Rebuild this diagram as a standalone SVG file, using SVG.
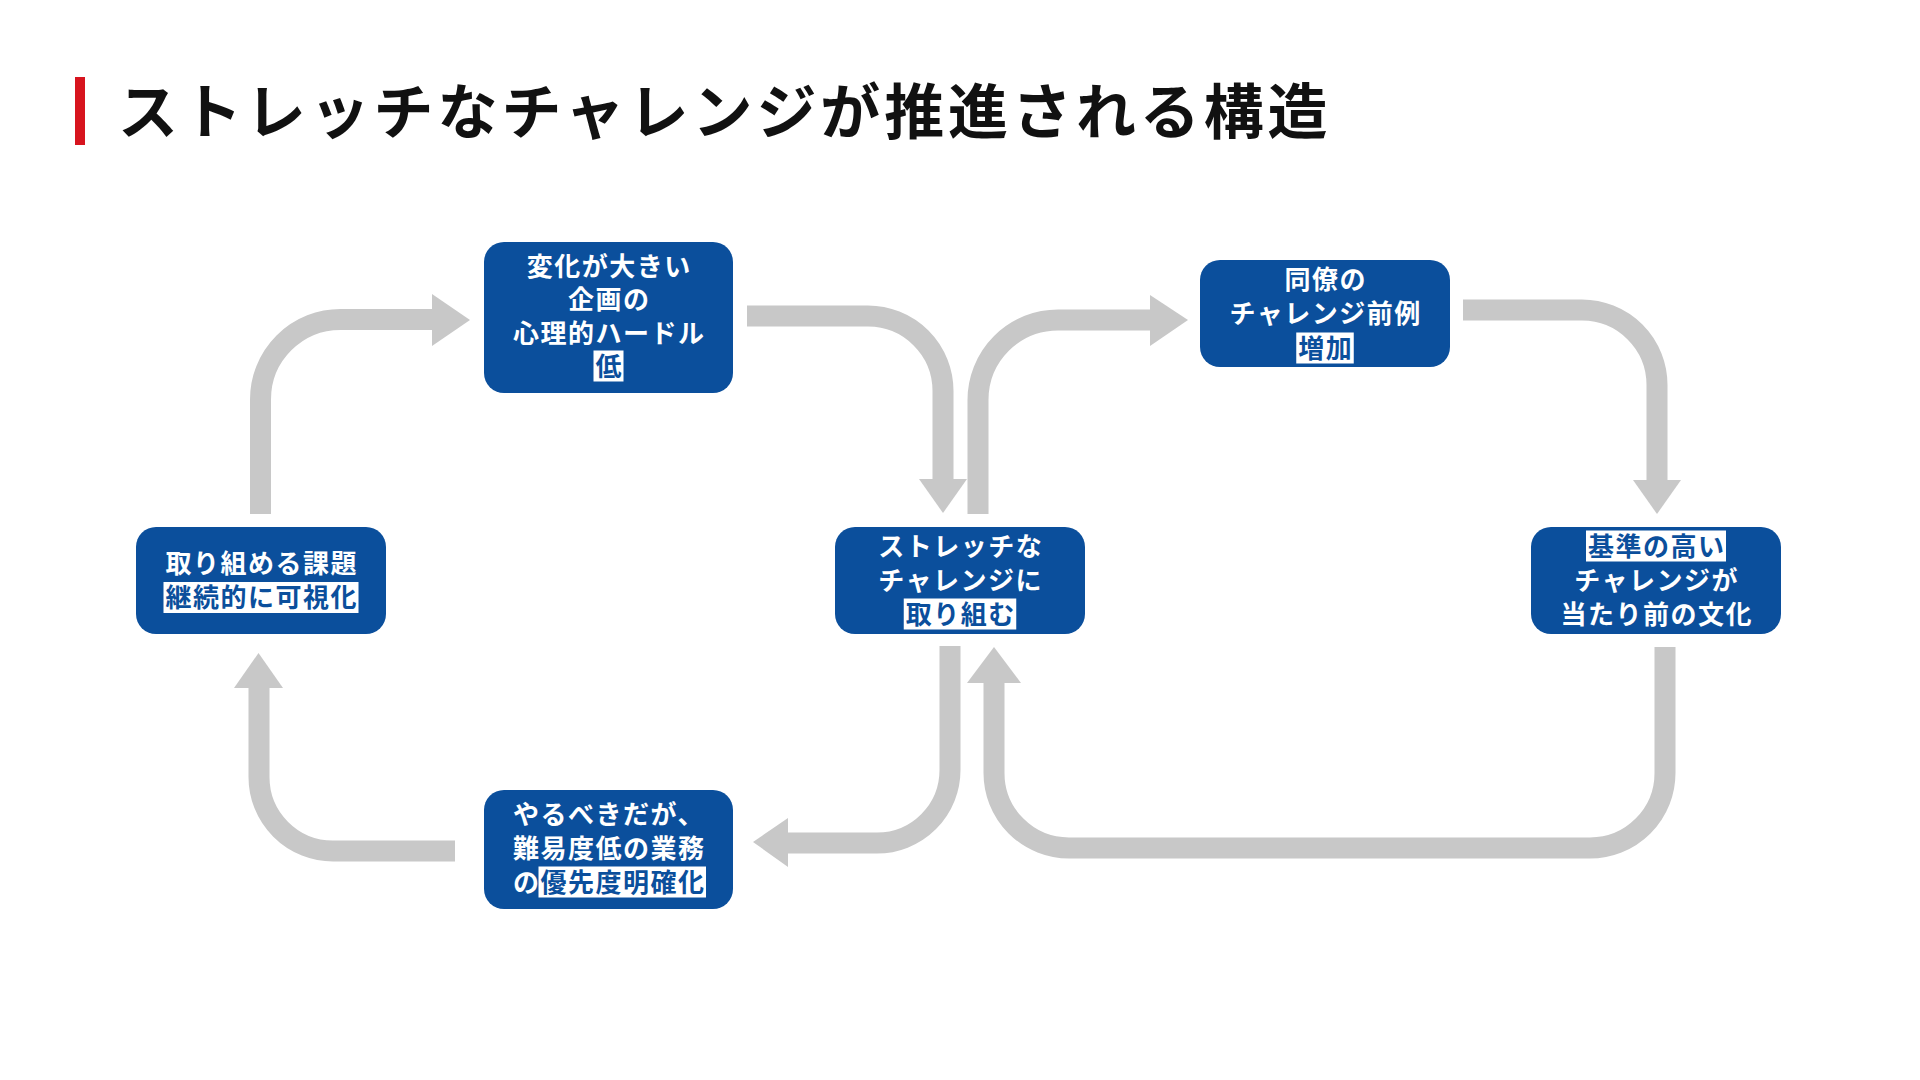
<svg xmlns="http://www.w3.org/2000/svg" width="1920" height="1080" viewBox="0 0 1920 1080">
<style>
.title{font-family:"Noto Sans CJK JP","Noto Sans",sans-serif;font-weight:700;font-size:60px;letter-spacing:3.9px;fill:#111111}
.box{fill:#0b4f9c}
.t{font-family:"Noto Sans CJK JP","Noto Sans",sans-serif;font-weight:700;font-size:26px;letter-spacing:1.5px;fill:#ffffff}
.hl{fill:#ffffff}
.ht{fill:#0b4f9c}
.conn path{fill:none;stroke:#c8c8c8;stroke-width:21}
.conn polygon{fill:#c8c8c8}
</style>
<rect width="1920" height="1080" fill="#ffffff"/>
<g id="title">
<rect x="75" y="77" width="10" height="68" fill="#d7141e"/>
<text class="title" x="118" y="134">ストレッチなチャレンジが推進される構造</text>
</g>
<g id="connectors" class="conn">
<path d="M260.5,514 V399.5 A80,80 0 0 1 340.5,319.5 H433"/>
<polygon points="432,294 470,320 432,346"/>
<path d="M747,316 H868 A75,75 0 0 1 943,391 V480"/>
<polygon points="919,479 967,479 943,513"/>
<path d="M978,514 V400 A80,80 0 0 1 1058,320 H1151"/>
<polygon points="1150,295 1188,320 1150,346"/>
<path d="M1463,310 H1582 A75,75 0 0 1 1657,385 V481"/>
<polygon points="1633,480 1681,480 1657,514"/>
<path d="M1665,647 V773 A75,75 0 0 1 1590,848 H1069 A75,75 0 0 1 994,773 V682"/>
<polygon points="967,683 1021,683 994,647"/>
<path d="M950,646 V770 A73,73 0 0 1 877,843 H787"/>
<polygon points="788,818 788,867 753,842"/>
<path d="M455,851 H333 A74,74 0 0 1 259,777 V687"/>
<polygon points="234,688 283,688 258.5,653"/>
</g>
<g id="node-hurdle">
<rect class="box" x="484" y="242" width="249" height="151" rx="20"/>
<text class="t" x="526.75" y="275.75">変化が大きい</text>
<text class="t" x="568" y="308.75">企画の</text>
<text class="t" x="513" y="342.75">心理的ハードル</text>
<rect class="hl" x="593.5" y="350.5" width="30" height="31"/>
<text class="t ht" x="595.5" y="375.75">低</text>
</g>
<g id="node-visualize">
<rect class="box" x="136" y="527" width="250" height="107" rx="20"/>
<text class="t" x="165.5" y="572.75">取り組める課題</text>
<rect class="hl" x="163.5" y="582" width="195" height="31"/>
<text class="t ht" x="165.5" y="607.25">継続的に可視化</text>
</g>
<g id="node-stretch">
<rect class="box" x="835" y="527" width="250" height="107" rx="20"/>
<text class="t" x="878.25" y="555.75">ストレッチな</text>
<text class="t" x="878.25" y="589.75">チャレンジに</text>
<rect class="hl" x="903.75" y="598.5" width="112.5" height="31"/>
<text class="t ht" x="905.75" y="623.75">取り組む</text>
</g>
<g id="node-precedent">
<rect class="box" x="1200" y="260" width="250" height="107" rx="20"/>
<text class="t" x="1284.5" y="288.75">同僚の</text>
<text class="t" x="1229.5" y="323.25">チャレンジ前例</text>
<rect class="hl" x="1296.25" y="332.5" width="57.5" height="31"/>
<text class="t ht" x="1298.25" y="357.75">増加</text>
</g>
<g id="node-culture">
<rect class="box" x="1531" y="527" width="250" height="107" rx="20"/>
<rect class="hl" x="1586" y="530.5" width="140" height="31"/>
<text class="t ht" x="1588" y="555.75">基準の高い</text>
<text class="t" x="1574.25" y="589.75">チャレンジが</text>
<text class="t" x="1560.5" y="623.75">当たり前の文化</text>
</g>
<g id="node-priority">
<rect class="box" x="484" y="790" width="249" height="119" rx="20"/>
<text class="t" x="513" y="823.75">やるべきだが、</text>
<text class="t" x="513" y="857.75">難易度低の業務</text>
<rect class="hl" x="538.5" y="866.5" width="167.5" height="31"/>
<text class="t" x="513" y="891.75">の<tspan class="ht">優先度明確化</tspan></text>
</g>
</svg>
